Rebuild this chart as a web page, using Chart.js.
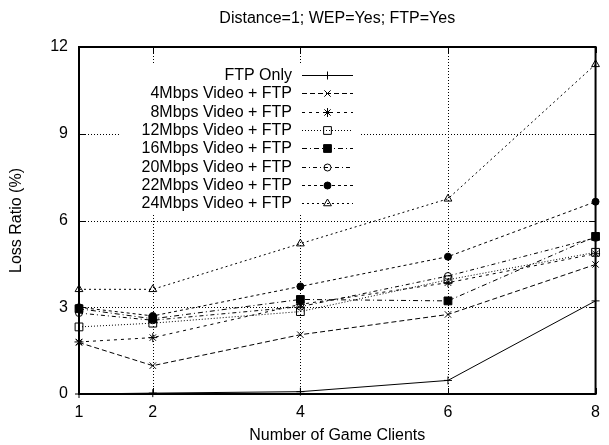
<!DOCTYPE html>
<html>
<head>
<meta charset="utf-8">
<script src="https://cdn.jsdelivr.net/npm/chart.js@4.4.1/dist/chart.umd.min.js"></script>
<style>
  html, body { margin: 0; padding: 0; background: #fff; }
  #chart { display: block; }
</style>
</head>
<body>
<canvas id="chart" width="609" height="445"></canvas>
<script>
// x positions (number of game clients)
const clients = [1, 2, 4, 6, 8];
const yTicks = [0, 3, 6, 9, 12];

// loss ratio (%) per series
const ftpOnly  = [0.00, 0.03, 0.08, 0.47, 3.22];
const video4   = [1.78, 0.98, 2.05, 2.75, 4.48];
const video8   = [1.80, 1.95, 3.10, 3.85, 4.85];
const video12  = [2.32, 2.45, 2.85, 3.95, 4.90];
const video16  = [2.95, 2.60, 3.27, 3.22, 5.45];
const video20  = [2.80, 2.55, 3.02, 4.08, 5.40];
const video22  = [3.00, 2.70, 3.72, 4.75, 6.65];
const video24  = [3.62, 3.62, 5.20, 6.75, 11.40];

const seriesNames = [
  'FTP Only', '4Mbps Video + FTP', '8Mbps Video + FTP', '12Mbps Video + FTP',
  '16Mbps Video + FTP', '20Mbps Video + FTP', '22Mbps Video + FTP', '24Mbps Video + FTP'
];
const seriesData = [ftpOnly, video4, video8, video12, video16, video20, video22, video24];

// gnuplot-ish look per series
const styles = [
  { dash: [],           point: 'cross',    r: 4,   fill: 'transparent' },
  { dash: [5, 3],       point: 'crossRot', r: 4.5, fill: 'transparent' },
  { dash: [3, 4],       point: 'star',     r: 4.5, fill: 'transparent' },
  { dash: [1, 2],       point: 'rect',     r: 5.5, fill: 'transparent' },
  { dash: [5, 3, 1, 3], point: 'rect',     r: 5.5, fill: '#000' },
  { dash: [4, 3, 1, 3], point: 'circle',   r: 3.5, fill: 'transparent' },
  { dash: [3, 3],       point: 'circle',   r: 3.5, fill: '#000' },
  { dash: [2, 3],       point: 'triangle', r: 4.5, fill: 'transparent' }
];

const FONT = '"Liberation Sans", Arial, sans-serif';

const datasets = seriesNames.map((name, i) => ({
  label: name,
  data: clients.map((x, j) => ({ x: x, y: seriesData[i][j] })),
  borderColor: '#000',
  borderWidth: 1,
  borderDash: styles[i].dash,
  pointStyle: styles[i].point,
  pointRadius: styles[i].r,
  pointHoverRadius: styles[i].r,
  pointBorderColor: '#000',
  pointBorderWidth: 1,
  pointBackgroundColor: styles[i].fill,
  fill: false,
  tension: 0,
  clip: false
}));

// frame, dotted grid, inward ticks, titles and legend in gnuplot style
const gnuplotDecor = {
  id: 'gnuplotDecor',
  beforeDraw(chart) {
    const ctx = chart.ctx;
    ctx.save();
    ctx.fillStyle = '#fff';
    ctx.fillRect(0, 0, chart.width, chart.height);
    ctx.restore();
  },
  beforeDatasetsDraw(chart) {
    const { ctx, chartArea: a, scales: { x, y } } = chart;
    ctx.save();
    ctx.strokeStyle = '#000';
    ctx.lineWidth = 1;
    ctx.setLineDash([1, 2]);
    clients.slice(1, -1).forEach(v => {
      const px = Math.round(x.getPixelForValue(v)) + 0.5;
      ctx.beginPath(); ctx.moveTo(px, a.top); ctx.lineTo(px, a.bottom); ctx.stroke();
    });
    yTicks.slice(1, -1).forEach(v => {
      const py = Math.round(y.getPixelForValue(v)) + 0.5;
      ctx.beginPath(); ctx.moveTo(a.left, py); ctx.lineTo(a.right, py); ctx.stroke();
    });
    ctx.restore();
  },
  afterDatasetsDraw(chart) {
    const { ctx, chartArea: a, scales: { x, y } } = chart;
    ctx.save();
    ctx.strokeStyle = '#000';
    ctx.setLineDash([]);

    // tick marks (inward, mirrored)
    ctx.lineWidth = 1;
    const tl = 6;
    clients.forEach(v => {
      const px = Math.round(x.getPixelForValue(v)) + 0.5;
      ctx.beginPath();
      ctx.moveTo(px, a.bottom); ctx.lineTo(px, a.bottom - tl);
      ctx.moveTo(px, a.top); ctx.lineTo(px, a.top + tl);
      ctx.stroke();
    });
    yTicks.forEach(v => {
      const py = Math.round(y.getPixelForValue(v)) + 0.5;
      ctx.beginPath();
      ctx.moveTo(a.left, py); ctx.lineTo(a.left + tl, py);
      ctx.moveTo(a.right, py); ctx.lineTo(a.right - tl, py);
      ctx.stroke();
    });

    // frame
    ctx.lineWidth = 2;
    ctx.strokeRect(a.left, a.top, a.right - a.left, a.bottom - a.top);

    // legend
    const lx1 = 302, lx2 = 353, ltx = 292, ly0 = 75, lstep = 18.3;
    ctx.fillStyle = '#fff';
    ctx.fillRect(120, ly0 - 10, 240, lstep * 8 + 2);
    ctx.font = '16px ' + FONT;
    ctx.textAlign = 'right';
    ctx.textBaseline = 'middle';
    seriesNames.forEach((name, i) => {
      const yy = Math.round(ly0 + i * lstep) + 0.5;
      ctx.fillStyle = '#000';
      ctx.fillText(name, ltx, yy);
      ctx.lineWidth = 1;
      ctx.setLineDash(styles[i].dash);
      ctx.beginPath(); ctx.moveTo(lx1, yy); ctx.lineTo(lx2, yy); ctx.stroke();
      ctx.setLineDash([]);
      ctx.fillStyle = styles[i].fill;
      Chart.helpers.drawPoint(ctx, {
        pointStyle: styles[i].point, radius: styles[i].r, rotation: 0, borderWidth: 1
      }, (lx1 + lx2) / 2, yy);
    });

    // titles
    ctx.fillStyle = '#000';
    ctx.textAlign = 'center';
    ctx.textBaseline = 'middle';
    ctx.font = '16px ' + FONT;
    const cx = (a.left + a.right) / 2;
    ctx.fillText('Distance=1; WEP=Yes; FTP=Yes', cx, 19);
    ctx.fillText('Number of Game Clients', cx, 436);
    ctx.translate(17, (a.top + a.bottom) / 2);
    ctx.rotate(-Math.PI / 2);
    ctx.fillText('Loss Ratio (%)', 0, 0);
    ctx.restore();
  }
};

const chart = new Chart(document.getElementById('chart'), {
  type: 'line',
  data: { datasets: datasets },
  options: {
    responsive: false,
    animation: false,
    devicePixelRatio: 1,
    events: [],
    layout: { padding: { top: 47, right: 6, left: 0, bottom: 0 } },
    plugins: {
      legend: { display: false },
      title: { display: false },
      tooltip: { enabled: false }
    },
    scales: {
      x: {
        type: 'linear',
        min: 1,
        max: 8,
        afterBuildTicks: s => { s.ticks = clients.map(v => ({ value: v })); },
        afterFit: s => { s.height = 51; },
        grid: { display: false, drawTicks: false },
        border: { display: false },
        ticks: { color: '#000', font: { family: FONT, size: 16 }, padding: 9, maxRotation: 0, autoSkip: false }
      },
      y: {
        min: 0,
        max: 12,
        afterBuildTicks: s => { s.ticks = yTicks.map(v => ({ value: v })); },
        afterFit: s => { s.width = 79; },
        grid: { display: false, drawTicks: false },
        border: { display: false },
        ticks: { color: '#000', font: { family: FONT, size: 16 }, padding: 11 }
      }
    }
  },
  plugins: [gnuplotDecor]
});
</script>
</body>
</html>
